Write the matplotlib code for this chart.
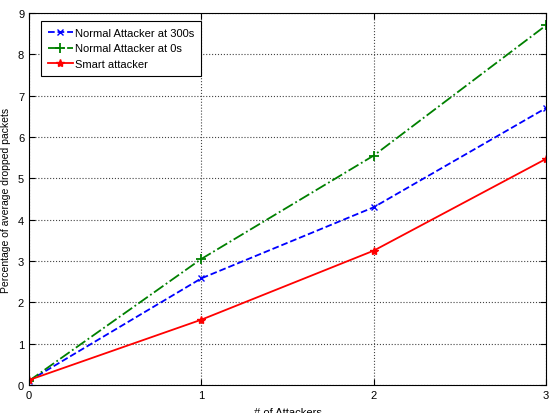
import numpy as np
import matplotlib
matplotlib.use('Agg')
import matplotlib.pyplot as plt

plt.rcParams['font.family'] = ['Liberation Sans', 'DejaVu Sans']

attackers = [0, 1, 2, 3]
normal_300 = [0.1, 2.58, 4.3, 6.7]
normal_0 = [0.1, 3.05, 5.55, 8.7]
smart = [0.12, 1.58, 3.25, 5.47]

fig = plt.figure(figsize=(5.49, 4.14), dpi=100)
ax = fig.add_axes([29/549, 28/414, 517/549, 372/414])

ax.plot(attackers, normal_300, color='blue', linestyle='--', linewidth=1.3,
        marker='x', markersize=4, label='Normal Attacker at 300s')
ax.plot(attackers, normal_0, color='green', linestyle='-.', linewidth=1.3,
        marker='+', markersize=7, markeredgewidth=1.3, label='Normal Attacker at 0s')
ax.plot(attackers, smart, color='red', linestyle='-', linewidth=1.3,
        marker='*', markersize=6, label='Smart attacker')

ax.set_xlim(0, 3)
ax.set_ylim(0, 9)
ax.set_xticks([0, 1, 2, 3])
ax.set_yticks(range(10))
ax.grid(True, color='#444444', linestyle=':', linewidth=0.8)
ax.tick_params(direction='in', top=True, right=True, labelsize=8, length=4)
for s in ax.spines.values():
    s.set_linewidth(0.8)

ax.set_xlabel('# of Attackers', fontsize=8, labelpad=5)
ax.set_ylabel('Percentage of average dropped packets', fontsize=7.5, labelpad=5)

leg = ax.legend(loc='upper left', bbox_to_anchor=(0.023, 0.978), borderaxespad=0,
                fontsize=8, fancybox=False, framealpha=1, edgecolor='black',
                handlelength=2.3, handletextpad=0.2, borderpad=0.6, labelspacing=0.5)
leg.get_frame().set_linewidth(0.8)

plt.savefig('out.png', dpi=100)
